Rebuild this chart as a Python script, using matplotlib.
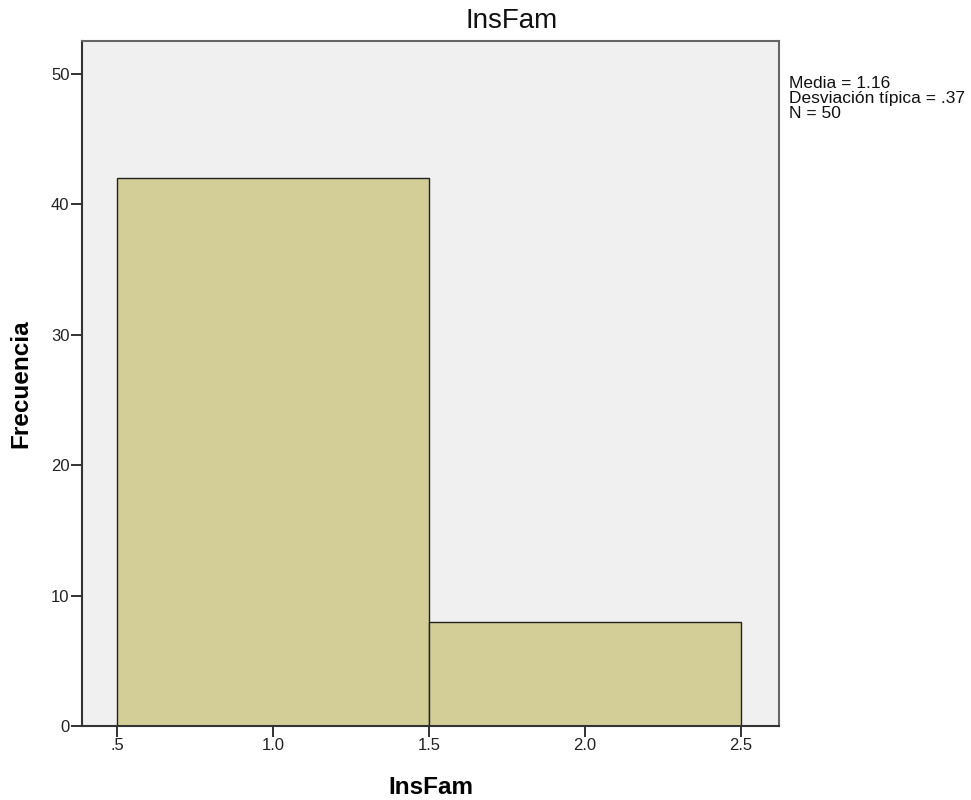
import matplotlib
matplotlib.use('Agg')
import matplotlib.pyplot as plt

# histogram data
bin_edges = [0.5, 1.5, 2.5]
counts = [42, 8]
xticks = [0.5, 1.0, 1.5, 2.0, 2.5]
xtick_labels = ['.5', '1.0', '1.5', '2.0', '2.5']
yticks = [0, 10, 20, 30, 40, 50]
stats_text = 'Media = 1.16\nDesviación típica = .37\nN = 50'

plt.rcParams['font.family'] = ['Liberation Sans', 'DejaVu Sans']

fig = plt.figure(figsize=(9.71, 8.0), dpi=100)
ax = fig.add_axes([0.0845, 0.0925, 0.7178, 0.8566])
ax.set_facecolor('#f0f0f0')

lefts = bin_edges[:-1]
widths = [bin_edges[i + 1] - bin_edges[i] for i in range(len(counts))]
ax.bar(lefts, counts, width=widths, align='edge', color='#d3cd98',
       edgecolor='#222222', linewidth=1.0)

ax.set_xlim(0.388, 2.622)
ax.set_ylim(0, 52.55)
ax.set_xticks(xticks)
ax.set_xticklabels(xtick_labels)
ax.set_yticks(yticks)
ax.tick_params(axis='both', labelsize=12, length=8, width=1.3, color='#222222',
               pad=1, labelcolor='#222222')

for side in ['left', 'bottom']:
    ax.spines[side].set_color('#333333')
    ax.spines[side].set_linewidth(1.5)
for side in ['top', 'right']:
    ax.spines[side].set_color('#666666')
    ax.spines[side].set_linewidth(1.5)

# title sits centred over plot + stats column
fig.text(512 / 971, 1 - 28 / 800, 'InsFam', fontsize=20, ha='center',
         va='baseline', color='#111111')

ax.set_xlabel('InsFam', fontsize=17.5, fontweight='bold')
ax.xaxis.label.set_va('baseline')
ax.xaxis.set_label_coords(0.5, (726 - 794) / 685.3)
ax.set_ylabel('Frecuencia', fontsize=17.5, fontweight='bold')
ax.yaxis.label.set_va('center')
ax.yaxis.set_label_coords((21 - 82) / 697, 0.5)

fig.text(789 / 971, 1 - 76 / 800, stats_text, fontsize=12.5, va='top', ha='left',
         linespacing=0.98, color='#111111')

fig.savefig('out.png', dpi=100, facecolor='white')
